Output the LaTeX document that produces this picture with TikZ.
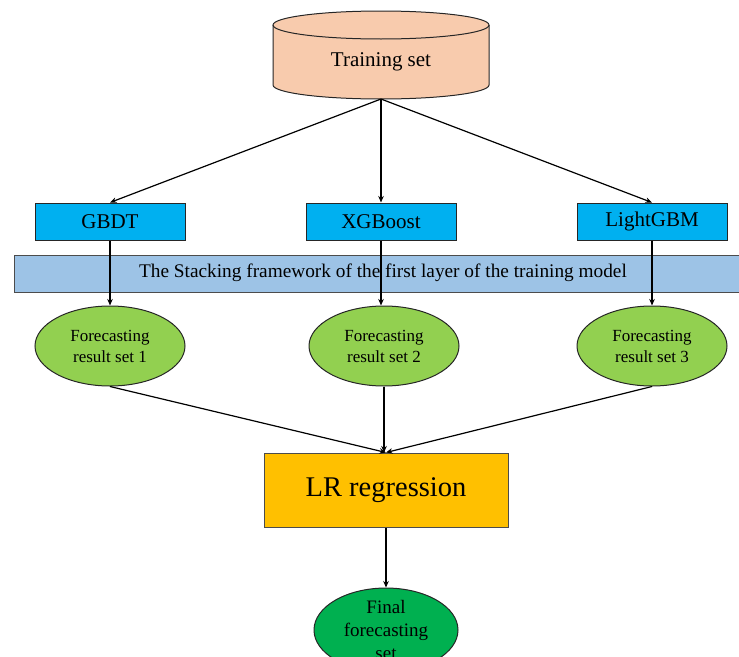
\documentclass[tikz,border=0pt]{standalone}
\usepackage{fontspec}
\setmainfont{Liberation Serif}
\usetikzlibrary{arrows.meta,shapes.geometric}
\definecolor{peach}{HTML}{F8CBAD}
\definecolor{boxblue}{HTML}{00B0F0}
\definecolor{bandblue}{HTML}{9DC3E6}
\definecolor{lgreen}{HTML}{92D050}
\definecolor{lrgold}{HTML}{FFC000}
\definecolor{dgreen}{HTML}{00B050}
\tikzset{
  line/.style={line width=1.2pt, draw=black},
  arr/.style={line, -{Stealth[length=6.5pt,width=5.5pt]}},
  modelbox/.style={rectangle, draw=black!85, line width=1pt, fill=boxblue, minimum width=150pt, minimum height=37pt, inner sep=0pt, font=\fontsize{21}{24}\selectfont},
  resell/.style={ellipse, draw=black!85, line width=1pt, fill=lgreen, minimum width=150pt, minimum height=80pt, inner sep=0pt, align=center, font=\fontsize{17}{21}\selectfont},
}
\begin{document}
\begin{tikzpicture}[x=1pt,y=-1pt]
\useasboundingbox (0,0) rectangle (739,656);
\clip (0,0) rectangle (739,656);
% cylinder
\fill[peach] (273,25) -- (273,85) arc[start angle=180,end angle=0,x radius=108,y radius=14] -- (489,25) arc[start angle=360,end angle=180,x radius=108,y radius=14] -- cycle;
\draw[line width=1pt, black!85] (273,25) -- (273,85) arc[start angle=180,end angle=0,x radius=108,y radius=14] -- (489,25);
\draw[line width=1pt, black!85] (381,25) ellipse[x radius=108, y radius=14];
\node[font=\fontsize{21}{24}\selectfont] (train) at (381,62) {Training set};
\coordinate (tb) at (381,99);
% band
\node[rectangle, draw=black!70, line width=0.8pt, fill=bandblue, minimum width=740pt, minimum height=37pt, inner sep=0pt, anchor=west] (band) at (14,273.5) {};
\node[font=\fontsize{19.3}{22}\selectfont] (bandtext) at (383,273) {The Stacking framework of the first layer of the training model};
% model boxes
\node[modelbox] (gbdt) at (110,221.5) {GBDT};
\node[modelbox] (xgb) at (381,221.5) {XGBoost};
\node[modelbox] (lgbm) at (652,221.5) {LightGBM};
% result ellipses
\node[resell] (e1) at (110,346) {Forecasting\\result set 1};
\node[resell] (e2) at (384,346) {Forecasting\\result set 2};
\node[resell] (e3) at (652,346) {Forecasting\\result set 3};
% LR
\node[rectangle, draw=black!70, line width=1pt, fill=lrgold, minimum width=244pt, minimum height=74pt, inner sep=0pt, font=\fontsize{28.5}{32}\selectfont] (lr) at (386,490) {LR regression};
% final
\node[ellipse, draw=black!85, line width=1pt, fill=dgreen, minimum width=144pt, minimum height=80pt, inner sep=0pt, align=center, font=\fontsize{19}{23}\selectfont] (fin) at (386,630) {Final\\forecasting\\set};
% connectors
\draw[arr] (tb) -- (gbdt.north);
\draw[arr] (tb) -- (xgb.north);
\draw[arr] (tb) -- (lgbm.north);
\draw[arr] (gbdt.south) -- (e1.north);
\draw[arr] (xgb.south) -- (xgb.south |- e2.north);
\draw[arr] (lgbm.south) -- (e3.north);
\draw[arr] (e1.south) -- (lr.north);
\draw[arr] (e2.south) -- (e2.south |- lr.north);
\draw[arr] (e3.south) -- (lr.north);
\draw[arr] (lr.south) -- (fin.north);
\end{tikzpicture}
\end{document}
